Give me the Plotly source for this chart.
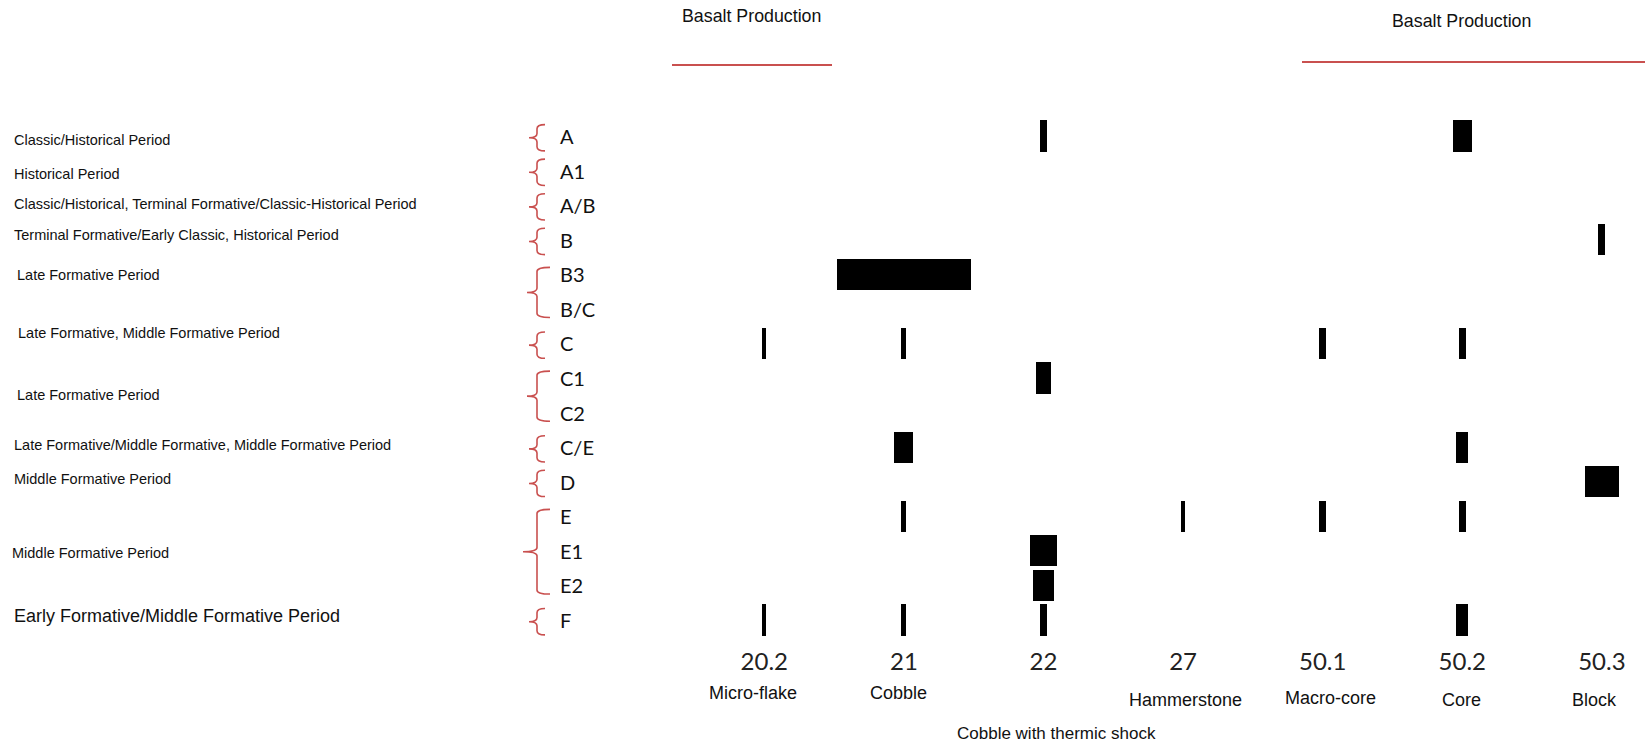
import plotly.graph_objects as go

# ---------------- data ----------------
codes = ["20.2", "21", "22", "27", "50.1", "50.2", "50.3"]
names = ["Micro-flake", "Cobble", "Cobble with thermic shock", "Hammerstone",
         "Macro-core", "Core", "Block"]
rows = ["A", "A1", "A/B", "B", "B3", "B/C", "C", "C1", "C2", "C/E", "D",
        "E", "E1", "E2", "F"]

# share (%) of each row in each artefact class (0 = absent)
#            A  A1 A/B  B  B3  B/C  C  C1    C2 C/E  D   E   E1  E2  F
v_20_2 = [0, 0, 0, 0, 0, 0, 3, 0, 0, 0, 0, 0, 0, 0, 3]
v_21 = [0, 0, 0, 0, 96, 0, 3.5, 0, 0, 13.5, 0, 3.5, 0, 0, 3.5]
v_22 = [5.5, 0, 0, 0, 0, 0, 0, 10.5, 0, 0, 0, 0, 19, 15, 5.5]
v_27 = [0, 0, 0, 0, 0, 0, 0, 0, 0, 0, 0, 3, 0, 0, 0]
v_50_1 = [0, 0, 0, 0, 0, 0, 5, 0, 0, 0, 0, 5, 0, 0, 0]
v_50_2 = [14, 0, 0, 0, 0, 0, 5, 0, 0, 8.5, 0, 5, 0, 0, 8.5]
v_50_3 = [0, 0, 0, 5, 0, 0, 0, 0, 0, 0, 24, 0, 0, 0, 0]
columns = [v_20_2, v_21, v_22, v_27, v_50_1, v_50_2, v_50_3]

# period groups: (label, first row, last row)
periods = [
    ("Classic/Historical Period", "A", "A"),
    ("Historical Period", "A1", "A1"),
    ("Classic/Historical, Terminal Formative/Classic-Historical Period", "A/B", "A/B"),
    ("Terminal Formative/Early Classic, Historical Period", "B", "B"),
    ("Late Formative Period", "B3", "B/C"),
    ("Late Formative, Middle Formative Period", "C", "C"),
    ("Late Formative Period", "C1", "C2"),
    ("Late Formative/Middle Formative, Middle Formative Period", "C/E", "C/E"),
    ("Middle Formative Period", "D", "D"),
    ("Middle Formative Period", "E", "E2"),
    ("Early Formative/Middle Formative Period", "F", "F"),
]
headings = ["Basalt Production", "Basalt Production"]

# ---------------- styling / layout ----------------
W, H = 1645, 744
PLOT_H = 637
ROW0, ROWSTEP = 136.0, 34.57
COL0, COLSTEP = 764.3, 139.6
BRACE = "#c9504f"
TXT = "#111111"

fig = go.Figure()

for ci, vals in enumerate(columns):
    ys, ws, bases = [], [], []
    for ri, v in enumerate(vals):
        if v > 0:
            w = v / 100.0
            ys.append(ri)
            ws.append(w)
            bases.append(ci - w / 2.0)
    fig.add_trace(go.Bar(
        y=ys, x=ws, base=bases, orientation="h", width=0.9,
        marker=dict(color="black", line=dict(width=0)),
        name=codes[ci], showlegend=False, hoverinfo="skip"))

def px_x(p):
    return p / W

annotations = []
shapes = []

# row letter labels
for ri, r in enumerate(rows):
    annotations.append(dict(
        text=r, xref="paper", yref="y", x=px_x(558), y=ri,
        xanchor="left", yanchor="middle", showarrow=False,
        font=dict(family="Lato", size=20, color=TXT)))

# period labels with their brackets
label_x = [12, 12, 12, 12, 14.5, 16, 15, 12, 12, 10, 12]
label_dy = [3.5, 3.5, -1, -4.5, -16.6, -10.5, 0, -2, -2.5, 2.5, -3.5]
label_fs = [14.5] * 10 + [18]
for k, (lab, r0, r1) in enumerate(periods):
    i0, i1 = rows.index(r0), rows.index(r1)
    yc = (i0 + i1) / 2.0
    annotations.append(dict(
        text=lab, xref="paper", yref="y", x=px_x(label_x[k]), y=yc,
        yshift=-label_dy[k], xanchor="left", yanchor="middle", showarrow=False,
        font=dict(family="Liberation Sans", size=label_fs[k], color=TXT)))
    # bracket geometry
    if i0 == i1:
        top, bot = i0 - 0.33, i0 + 0.43
        tip, vx, hx = px_x(529), px_x(537), px_x(545)
    else:
        top, bot = i0 - 0.2, i1 + 0.25
        tip = px_x(523) if i1 - i0 > 1 else px_x(527)
        vx, hx = px_x(537), px_x(550)
    mid = (top + bot) / 2.0
    r = 0.12
    path = (f"M {hx},{top} Q {vx},{top} {vx},{top + r} "
            f"L {vx},{mid - r} Q {vx},{mid} {tip},{mid} "
            f"Q {vx},{mid} {vx},{mid + r} "
            f"L {vx},{bot - r} Q {vx},{bot} {hx},{bot}")
    shapes.append(dict(type="path", path=path, xref="paper", yref="y",
                       line=dict(color=BRACE, width=1.6)))

# headings with red rules
head_pos = [(751.5, 16, 672, 832, 65), (1461, 21, 1302, 1645, 62)]
for txt, (cx, cy, x0, x1, ly) in zip(headings, head_pos):
    annotations.append(dict(
        text=txt, xref="paper", yref="paper", x=px_x(cx), y=1 - cy / PLOT_H,
        xanchor="center", yanchor="middle", showarrow=False,
        font=dict(family="Liberation Sans", size=17.8, color=TXT)))
    shapes.append(dict(type="line", xref="paper", yref="paper",
                       x0=px_x(x0), x1=px_x(x1), y0=1 - ly / PLOT_H, y1=1 - ly / PLOT_H,
                       line=dict(color=BRACE, width=2)))

# artefact class names under the codes
name_shift = [-11, -5, 13, 2, 8, -1, -7]
name_y = [693, 693, 733, 700, 698, 700, 700]
name_fs = [18, 18, 17, 18, 18, 18, 18]
for ci, nm in enumerate(names):
    annotations.append(dict(
        text=nm, xref="x", yref="paper", x=ci, xshift=name_shift[ci],
        y=1 - name_y[ci] / PLOT_H, xanchor="center", yanchor="middle",
        showarrow=False,
        font=dict(family="Liberation Sans", size=name_fs[ci], color=TXT)))

x_lo = (0 - COL0) / COLSTEP
x_hi = (W - COL0) / COLSTEP
y_top = (0 - ROW0) / ROWSTEP
y_bot = (PLOT_H - ROW0) / ROWSTEP

fig.update_layout(
    width=W, height=H,
    margin=dict(l=0, r=0, t=0, b=H - PLOT_H, pad=0),
    paper_bgcolor="white", plot_bgcolor="white",
    barmode="overlay", bargap=0,
    annotations=annotations, shapes=shapes,
    xaxis=dict(range=[x_lo, x_hi], tickvals=list(range(len(codes))),
               ticktext=codes, showgrid=False, zeroline=False, showline=False,
               ticks="outside", ticklen=3, tickcolor="rgba(0,0,0,0)",
               tickfont=dict(family="Lato", size=24, color="#222222"),
               fixedrange=True),
    yaxis=dict(range=[y_bot, y_top], showgrid=False, zeroline=False,
               showline=False, showticklabels=False, fixedrange=True),
)

fig.write_html("out.html", config={"displayModeBar": False},
               post_script="document.body.style.margin='0';document.body.style.overflow='hidden';")
